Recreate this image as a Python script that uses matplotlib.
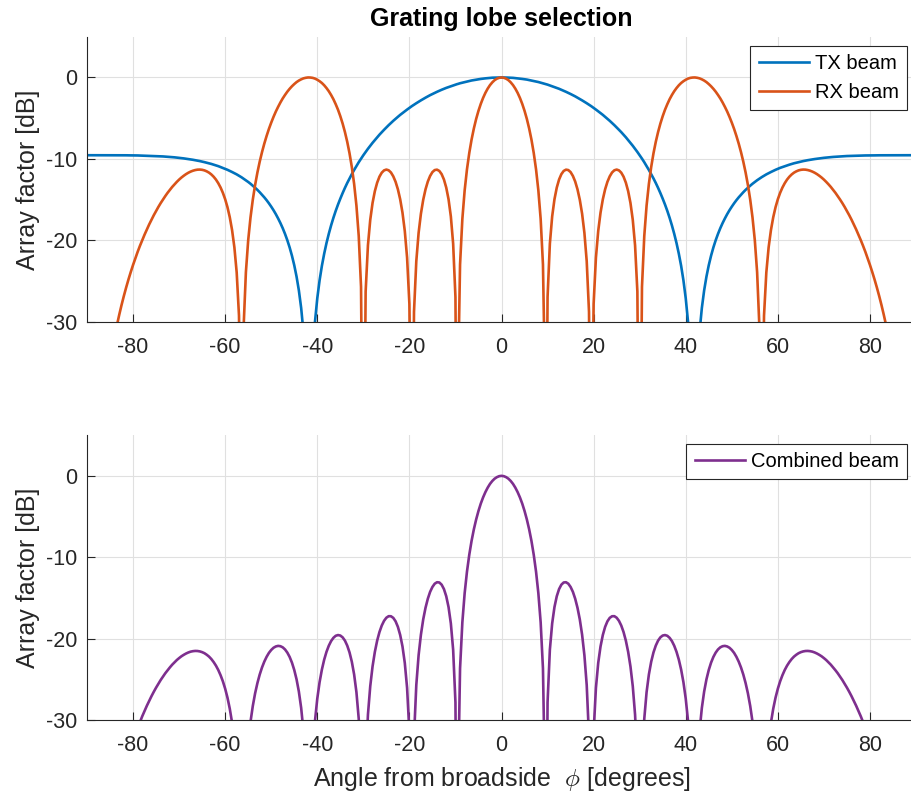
import matplotlib
matplotlib.use("Agg")
import matplotlib.pyplot as plt

plt.rcParams['font.family'] = ['Liberation Sans', 'DejaVu Sans']
plt.rcParams['mathtext.fontset'] = 'cm'
plt.rcParams['axes.unicode_minus'] = False

# angle from broadside [deg]; the odd values sit on the nulls
phi_deg = [
    -90,
    -89.5, -89, -88.5, -88, -87.5, -87, -86.5, -86, -85.5, -85,
    -84.5, -84, -83.5, -83, -82.5, -82, -81.5, -81, -80.5, -80,
    -79.5, -79, -78.5, -78, -77.5, -77, -76.5, -76, -75.5, -75,
    -74.5, -74, -73.5, -73, -72.5, -72, -71.5, -71, -70.5, -70,
    -69.5, -69, -68.5, -68, -67.5, -67, -66.5, -66, -65.5, -65,
    -64.5, -64, -63.5, -63, -62.5, -62, -61.5, -61, -60.5, -60,
    -59.5, -59, -58.5, -58, -57.5, -57, -56.5, -56.443, -56, -55.5, -55,
    -54.5, -54, -53.5, -53, -52.5, -52, -51.5, -51, -50.5, -50,
    -49.5, -49, -48.5, -48, -47.5, -47, -46.5, -46, -45.5, -45,
    -44.5, -44, -43.5, -43, -42.5, -42, -41.81, -41.5, -41, -40.5, -40,
    -39.5, -39, -38.5, -38, -37.5, -37, -36.5, -36, -35.5, -35,
    -34.5, -34, -33.5, -33, -32.5, -32, -31.5, -31, -30.5, -30,
    -29.5, -29, -28.5, -28, -27.5, -27, -26.5, -26, -25.5, -25,
    -24.5, -24, -23.5, -23, -22.5, -22, -21.5, -21, -20.5, -20,
    -19.5, -19.471, -19, -18.5, -18, -17.5, -17, -16.5, -16, -15.5, -15,
    -14.5, -14, -13.5, -13, -12.5, -12, -11.5, -11, -10.5, -10,
    -9.594, -9.5, -9, -8.5, -8, -7.5, -7, -6.5, -6, -5.5, -5,
    -4.5, -4, -3.5, -3, -2.5, -2, -1.5, -1, -0.5,
    0, 0.5, 1, 1.5, 2, 2.5, 3, 3.5, 4, 4.5,
    5, 5.5, 6, 6.5, 7, 7.5, 8, 8.5, 9, 9.5, 9.594,
    10, 10.5, 11, 11.5, 12, 12.5, 13, 13.5, 14, 14.5,
    15, 15.5, 16, 16.5, 17, 17.5, 18, 18.5, 19, 19.471, 19.5,
    20, 20.5, 21, 21.5, 22, 22.5, 23, 23.5, 24, 24.5,
    25, 25.5, 26, 26.5, 27, 27.5, 28, 28.5, 29, 29.5,
    30, 30.5, 31, 31.5, 32, 32.5, 33, 33.5, 34, 34.5,
    35, 35.5, 36, 36.5, 37, 37.5, 38, 38.5, 39, 39.5,
    40, 40.5, 41, 41.5, 41.81, 42, 42.5, 43, 43.5, 44, 44.5,
    45, 45.5, 46, 46.5, 47, 47.5, 48, 48.5, 49, 49.5,
    50, 50.5, 51, 51.5, 52, 52.5, 53, 53.5, 54, 54.5,
    55, 55.5, 56, 56.443, 56.5, 57, 57.5, 58, 58.5, 59, 59.5,
    60, 60.5, 61, 61.5, 62, 62.5, 63, 63.5, 64, 64.5,
    65, 65.5, 66, 66.5, 67, 67.5, 68, 68.5, 69, 69.5,
    70, 70.5, 71, 71.5, 72, 72.5, 73, 73.5, 74, 74.5,
    75, 75.5, 76, 76.5, 77, 77.5, 78, 78.5, 79, 79.5,
    80, 80.5, 81, 81.5, 82, 82.5, 83, 83.5, 84, 84.5,
    85, 85.5, 86, 86.5, 87, 87.5, 88, 88.5, 89, 89.5,
    90,
]

# TX beam [dB]  (-60 = far below the plotted range)
tx_db = [
    -9.54,
    -9.54, -9.54, -9.54, -9.54, -9.54, -9.54, -9.54, -9.54, -9.54, -9.54,
    -9.54, -9.54, -9.55, -9.55, -9.55, -9.55, -9.55, -9.56, -9.56, -9.56,
    -9.57, -9.57, -9.58, -9.58, -9.59, -9.60, -9.61, -9.62, -9.63, -9.64,
    -9.66, -9.67, -9.69, -9.71, -9.73, -9.75, -9.77, -9.80, -9.83, -9.86,
    -9.89, -9.93, -9.97, -10.01, -10.05, -10.10, -10.15, -10.20, -10.26, -10.32,
    -10.39, -10.46, -10.53, -10.61, -10.70, -10.79, -10.88, -10.99, -11.09, -11.21,
    -11.33, -11.46, -11.60, -11.74, -11.89, -12.06, -12.23, -12.25, -12.42, -12.61, -12.82,
    -13.04, -13.28, -13.53, -13.79, -14.08, -14.39, -14.71, -15.06, -15.44, -15.85,
    -16.29, -16.77, -17.30, -17.87, -18.50, -19.20, -19.98, -20.86, -21.87, -23.04,
    -24.43, -26.12, -28.28, -31.24, -35.89, -47.02, -60, -42.65, -34.23, -29.98, -27.09,
    -24.89, -23.11, -21.62, -20.32, -19.18, -18.15, -17.22, -16.37, -15.59, -14.87,
    -14.19, -13.55, -12.95, -12.39, -11.86, -11.35, -10.87, -10.40, -9.96, -9.54,
    -9.14, -8.75, -8.38, -8.02, -7.68, -7.34, -7.02, -6.71, -6.42, -6.13,
    -5.85, -5.58, -5.32, -5.07, -4.83, -4.59, -4.37, -4.15, -3.94, -3.73,
    -3.53, -3.52, -3.34, -3.16, -2.98, -2.81, -2.64, -2.48, -2.32, -2.17, -2.03,
    -1.89, -1.76, -1.63, -1.51, -1.39, -1.28, -1.18, -1.07, -0.98, -0.88,
    -0.81, -0.80, -0.71, -0.64, -0.56, -0.49, -0.43, -0.37, -0.32, -0.26, -0.22,
    -0.18, -0.14, -0.11, -0.08, -0.05, -0.03, -0.02, -0.01, -0.00,
    0.00, -0.00, -0.01, -0.02, -0.03, -0.05, -0.08, -0.11, -0.14, -0.18,
    -0.22, -0.26, -0.32, -0.37, -0.43, -0.49, -0.56, -0.64, -0.71, -0.80, -0.81,
    -0.88, -0.98, -1.07, -1.18, -1.28, -1.39, -1.51, -1.63, -1.76, -1.89,
    -2.03, -2.17, -2.32, -2.48, -2.64, -2.81, -2.98, -3.16, -3.34, -3.52, -3.53,
    -3.73, -3.94, -4.15, -4.37, -4.59, -4.83, -5.07, -5.32, -5.58, -5.85,
    -6.13, -6.42, -6.71, -7.02, -7.34, -7.68, -8.02, -8.38, -8.75, -9.14,
    -9.54, -9.96, -10.40, -10.87, -11.35, -11.86, -12.39, -12.95, -13.55, -14.19,
    -14.87, -15.59, -16.37, -17.22, -18.15, -19.18, -20.32, -21.62, -23.11, -24.89,
    -27.09, -29.98, -34.23, -42.65, -60, -47.02, -35.89, -31.24, -28.28, -26.12, -24.43,
    -23.04, -21.87, -20.86, -19.98, -19.20, -18.50, -17.87, -17.30, -16.77, -16.29,
    -15.85, -15.44, -15.06, -14.71, -14.39, -14.08, -13.79, -13.53, -13.28, -13.04,
    -12.82, -12.61, -12.42, -12.25, -12.23, -12.06, -11.89, -11.74, -11.60, -11.46, -11.33,
    -11.21, -11.09, -10.99, -10.88, -10.79, -10.70, -10.61, -10.53, -10.46, -10.39,
    -10.32, -10.26, -10.20, -10.15, -10.10, -10.05, -10.01, -9.97, -9.93, -9.89,
    -9.86, -9.83, -9.80, -9.77, -9.75, -9.73, -9.71, -9.69, -9.67, -9.66,
    -9.64, -9.63, -9.62, -9.61, -9.60, -9.59, -9.58, -9.58, -9.57, -9.57,
    -9.56, -9.56, -9.56, -9.55, -9.55, -9.55, -9.55, -9.55, -9.54, -9.54,
    -9.54, -9.54, -9.54, -9.54, -9.54, -9.54, -9.54, -9.54, -9.54, -9.54,
    -9.54,
]

# RX beam [dB]
rx_db = [
    -60,
    -60, -60, -55.84, -50.84, -46.96, -43.80, -41.12, -38.80, -36.76, -34.93,
    -33.28, -31.78, -30.39, -29.11, -27.92, -26.81, -25.77, -24.79, -23.87, -23.00,
    -22.18, -21.39, -20.65, -19.95, -19.28, -18.64, -18.03, -17.45, -16.90, -16.38,
    -15.88, -15.41, -14.97, -14.55, -14.15, -13.78, -13.43, -13.11, -12.81, -12.53,
    -12.28, -12.06, -11.86, -11.69, -11.55, -11.44, -11.36, -11.31, -11.30, -11.33,
    -11.40, -11.52, -11.68, -11.90, -12.18, -12.53, -12.97, -13.50, -14.15, -14.94,
    -15.92, -17.15, -18.73, -20.84, -23.92, -29.21, -48.70, -60, -30.69, -23.89, -19.97,
    -17.18, -14.99, -13.19, -11.66, -10.33, -9.16, -8.11, -7.17, -6.31, -5.54,
    -4.83, -4.18, -3.60, -3.06, -2.57, -2.14, -1.74, -1.39, -1.08, -0.81,
    -0.57, -0.38, -0.23, -0.11, -0.04, 0.00, 0.00, -0.01, -0.05, -0.14, -0.28,
    -0.46, -0.68, -0.96, -1.30, -1.69, -2.15, -2.67, -3.28, -3.96, -4.75,
    -5.65, -6.69, -7.89, -9.30, -10.99, -13.06, -15.72, -19.44, -25.69, -60,
    -26.26, -20.59, -17.46, -15.40, -13.95, -12.91, -12.17, -11.68, -11.40, -11.30,
    -11.39, -11.66, -12.13, -12.80, -13.72, -14.95, -16.59, -18.83, -22.11, -27.79,
    -53.03, -60, -28.76, -22.54, -19.07, -16.72, -15.01, -13.73, -12.77, -12.08, -11.61,
    -11.36, -11.31, -11.47, -11.86, -12.52, -13.51, -14.94, -17.05, -20.40, -26.95,
    -60, -39.27, -22.94, -17.35, -13.85, -11.28, -9.27, -7.62, -6.25, -5.08, -4.09,
    -3.24, -2.51, -1.89, -1.37, -0.94, -0.60, -0.33, -0.15, -0.04,
    0.00, -0.04, -0.15, -0.33, -0.60, -0.94, -1.37, -1.89, -2.51, -3.24,
    -4.09, -5.08, -6.25, -7.62, -9.27, -11.28, -13.85, -17.35, -22.94, -39.27, -60,
    -26.95, -20.40, -17.05, -14.94, -13.51, -12.52, -11.86, -11.47, -11.31, -11.36,
    -11.61, -12.08, -12.77, -13.73, -15.01, -16.72, -19.07, -22.54, -28.76, -60, -53.03,
    -27.79, -22.11, -18.83, -16.59, -14.95, -13.72, -12.80, -12.13, -11.66, -11.39,
    -11.30, -11.40, -11.68, -12.17, -12.91, -13.95, -15.40, -17.46, -20.59, -26.26,
    -60, -25.69, -19.44, -15.72, -13.06, -10.99, -9.30, -7.89, -6.69, -5.65,
    -4.75, -3.96, -3.28, -2.67, -2.15, -1.69, -1.30, -0.96, -0.68, -0.46,
    -0.28, -0.14, -0.05, -0.01, 0.00, 0.00, -0.04, -0.11, -0.23, -0.38, -0.57,
    -0.81, -1.08, -1.39, -1.74, -2.14, -2.57, -3.06, -3.60, -4.18, -4.83,
    -5.54, -6.31, -7.17, -8.11, -9.16, -10.33, -11.66, -13.19, -14.99, -17.18,
    -19.97, -23.89, -30.69, -60, -48.70, -29.21, -23.92, -20.84, -18.73, -17.15, -15.92,
    -14.94, -14.15, -13.50, -12.97, -12.53, -12.18, -11.90, -11.68, -11.52, -11.40,
    -11.33, -11.30, -11.31, -11.36, -11.44, -11.55, -11.69, -11.86, -12.06, -12.28,
    -12.53, -12.81, -13.11, -13.43, -13.78, -14.15, -14.55, -14.97, -15.41, -15.88,
    -16.38, -16.90, -17.45, -18.03, -18.64, -19.28, -19.95, -20.65, -21.39, -22.18,
    -23.00, -23.87, -24.79, -25.77, -26.81, -27.92, -29.11, -30.39, -31.78, -33.28,
    -34.93, -36.76, -38.80, -41.12, -43.80, -46.96, -50.84, -55.84, -60, -60,
    -60,
]

# combined beam [dB]
comb_db = [
    -60,
    -60, -60, -60, -60, -56.51, -53.34, -50.66, -48.35, -46.30, -44.48,
    -42.83, -41.32, -39.94, -38.66, -37.47, -36.36, -35.32, -34.35, -33.43, -32.56,
    -31.74, -30.96, -30.23, -29.53, -28.87, -28.24, -27.64, -27.07, -26.53, -26.02,
    -25.54, -25.08, -24.66, -24.25, -23.88, -23.53, -23.20, -22.91, -22.63, -22.39,
    -22.17, -21.99, -21.83, -21.70, -21.60, -21.54, -21.51, -21.52, -21.57, -21.66,
    -21.79, -21.98, -22.21, -22.51, -22.88, -23.32, -23.85, -24.49, -25.24, -26.15,
    -27.25, -28.61, -30.32, -32.58, -35.81, -41.26, -60, -60, -43.11, -36.50, -32.79,
    -30.22, -28.27, -26.72, -25.46, -24.41, -23.54, -22.82, -22.23, -21.75, -21.39,
    -21.12, -20.96, -20.89, -20.93, -21.07, -21.33, -21.72, -22.25, -22.95, -23.85,
    -25.00, -26.50, -28.51, -31.36, -35.93, -47.02, -60, -42.66, -34.29, -30.12, -27.37,
    -25.35, -23.80, -22.58, -21.62, -20.87, -20.30, -19.90, -19.65, -19.56, -19.62,
    -19.84, -20.24, -20.85, -21.69, -22.84, -24.40, -26.58, -29.84, -35.65, -60,
    -35.40, -29.34, -25.84, -23.42, -21.63, -20.25, -19.19, -18.39, -17.81, -17.43,
    -17.24, -17.25, -17.45, -17.87, -18.55, -19.55, -20.96, -22.98, -26.05, -31.52,
    -56.56, -60, -32.10, -25.70, -22.04, -19.52, -17.64, -16.21, -15.10, -14.25, -13.65,
    -13.25, -13.07, -13.10, -13.37, -13.91, -14.79, -16.12, -18.13, -21.37, -27.83,
    -60, -40.07, -23.65, -17.99, -14.41, -11.78, -9.70, -7.99, -6.56, -5.35, -4.31,
    -3.41, -2.65, -2.00, -1.45, -0.99, -0.63, -0.35, -0.16, -0.04,
    0.00, -0.04, -0.16, -0.35, -0.63, -0.99, -1.45, -2.00, -2.65, -3.41,
    -4.31, -5.35, -6.56, -7.99, -9.70, -11.78, -14.41, -17.99, -23.65, -40.07, -60,
    -27.83, -21.37, -18.13, -16.12, -14.79, -13.91, -13.37, -13.10, -13.07, -13.25,
    -13.65, -14.25, -15.10, -16.21, -17.64, -19.52, -22.04, -25.70, -32.10, -60, -56.56,
    -31.52, -26.05, -22.98, -20.96, -19.55, -18.55, -17.87, -17.45, -17.25, -17.24,
    -17.43, -17.81, -18.39, -19.19, -20.25, -21.63, -23.42, -25.84, -29.34, -35.40,
    -60, -35.65, -29.84, -26.58, -24.40, -22.84, -21.69, -20.85, -20.24, -19.84,
    -19.62, -19.56, -19.65, -19.90, -20.30, -20.87, -21.62, -22.58, -23.80, -25.35,
    -27.37, -30.12, -34.29, -42.66, -60, -47.02, -35.93, -31.36, -28.51, -26.50, -25.00,
    -23.85, -22.95, -22.25, -21.72, -21.33, -21.07, -20.93, -20.89, -20.96, -21.12,
    -21.39, -21.75, -22.23, -22.82, -23.54, -24.41, -25.46, -26.72, -28.27, -30.22,
    -32.79, -36.50, -43.11, -60, -60, -41.26, -35.81, -32.58, -30.32, -28.61, -27.25,
    -26.15, -25.24, -24.49, -23.85, -23.32, -22.88, -22.51, -22.21, -21.98, -21.79,
    -21.66, -21.57, -21.52, -21.51, -21.54, -21.60, -21.70, -21.83, -21.99, -22.17,
    -22.39, -22.63, -22.91, -23.20, -23.53, -23.88, -24.25, -24.66, -25.08, -25.54,
    -26.02, -26.53, -27.07, -27.64, -28.24, -28.87, -29.53, -30.23, -30.96, -31.74,
    -32.56, -33.43, -34.35, -35.32, -36.36, -37.47, -38.66, -39.94, -41.32, -42.83,
    -44.48, -46.30, -48.35, -50.66, -53.34, -56.51, -60, -60, -60, -60,
    -60,
]

x_ticks = [-80, -60, -40, -20, 0, 20, 40, 60, 80]
y_ticks = [-30, -20, -10, 0]

dark = '#262626'

fig = plt.figure(figsize=(9.11, 7.98), dpi=100)
ax1 = fig.add_axes([0.0955, 0.5965, 0.910, 0.3575])
ax2 = fig.add_axes([0.0955, 0.0977, 0.910, 0.357])

ax1.plot(phi_deg, tx_db, color='#0072BD', lw=1.9, label='TX beam')
ax1.plot(phi_deg, rx_db, color='#D95319', lw=1.9, label='RX beam')
ax2.plot(phi_deg, comb_db, color='#7E2F8E', lw=1.9, label='Combined beam')

for ax in (ax1, ax2):
    ax.set_xlim(-90, 90)
    ax.set_ylim(-30, 5)
    ax.set_xticks(x_ticks)
    ax.set_yticks(y_ticks)
    ax.grid(True, color='#e0e0e0', lw=0.8)
    ax.set_axisbelow(True)
    ax.spines['top'].set_visible(False)
    ax.spines['right'].set_visible(False)
    ax.spines['left'].set_color(dark)
    ax.spines['bottom'].set_color(dark)
    ax.tick_params(direction='in', length=6, width=0.8, color=dark,
                   labelcolor=dark, labelsize=15.5)
    ax.tick_params(axis='x', pad=11)
    ax.tick_params(axis='y', pad=7)
    ax.set_ylabel('Array factor [dB]', fontsize=18, color=dark, labelpad=4)
    leg = ax.legend(loc='upper right', fontsize=14.5, fancybox=False,
                    framealpha=1, edgecolor=dark, handlelength=2.5,
                    handletextpad=0.3, borderaxespad=0.45)
    leg.get_frame().set_linewidth(0.8)

ax1.set_title('Grating lobe selection', fontsize=18, fontweight='bold', pad=8)
ax2.set_xlabel(r'Angle from broadside  $\phi$ [degrees]', fontsize=18,
               color=dark, labelpad=6)

fig.savefig('out.png', dpi=100)
